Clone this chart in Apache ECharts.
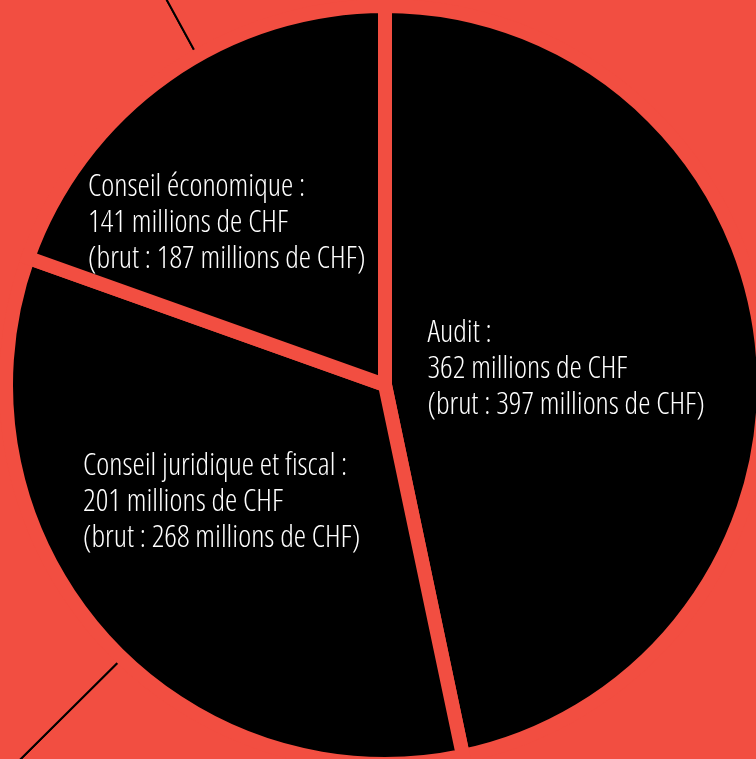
<!DOCTYPE html>
<html>
<head>
<meta charset="utf-8">
<script src="https://cdn.jsdelivr.net/npm/echarts@6/dist/echarts.min.js"></script>
<style>
  html, body { margin: 0; padding: 0; background: #F24E41; }
  #chart { width: 756px; height: 759px; }
</style>
</head>
<body>
<div id="chart"></div>
<script>
// Data
const categories = ['Audit', 'Conseil juridique et fiscal', 'Conseil économique'];
const netValues = [362, 201, 141];      // millions de CHF
const grossValues = [397, 268, 187];    // brut, millions de CHF
const sliceShares = [46.7, 33.75, 19.55]; // share of the circle each slice covers (%)
const backgroundShares = [41.8, 29.5, 28.7]; // background ring divisions (%)

const RED = '#F24E41';
const FONT = '"Open Sans", "DejaVu Sans Condensed", sans-serif';

// label placement tweaks (dx, dy from library anchor)
const labelShift = [[-149, 4], [-157, -9], [-186, -5]];

const chart = echarts.init(document.getElementById('chart'), null, { renderer: 'canvas' });

chart.setOption({
  backgroundColor: RED,
  animation: false,
  series: [
    {
      type: 'pie',
      z: 1,
      silent: true,
      center: [384, 398],
      radius: 1100,
      startAngle: 15.3,
      clockwise: true,
      label: { show: false },
      labelLine: { show: false },
      emphasis: { disabled: true },
      itemStyle: { color: RED, borderColor: '#000', borderWidth: 2 },
      data: backgroundShares.map((v, i) => ({ value: v, name: 'bg' + i }))
    },
    {
      type: 'pie',
      z: 2,
      silent: true,
      center: [385, 385],
      radius: 379,
      startAngle: 90,
      clockwise: true,
      avoidLabelOverlap: false,
      emphasis: { disabled: true },
      itemStyle: { color: '#000', borderColor: RED, borderWidth: 14, borderJoin: 'miter' },
      label: {
        show: true,
        position: 'inside',
        color: '#fff',
        fontFamily: FONT,
        fontSize: 31,
        lineHeight: 36,
        fontWeight: '300 condensed',
        align: 'left',
        formatter: (p) => {
          const i = p.dataIndex;
          return categories[i] + ' :\n' + netValues[i] + ' millions de CHF\n(brut : ' + grossValues[i] + ' millions de CHF)';
        }
      },
      labelLayout: function (params) {
        const r = params.labelRect;
        const s = labelShift[params.dataIndex];
        return {
          x: r.x + r.width / 2 + s[0],
          y: r.y + r.height / 2 + s[1],
          align: 'left',
          verticalAlign: 'middle'
        };
      },
      labelLine: { show: false },
      data: sliceShares.map((v, i) => ({ value: v, name: categories[i] }))
    }
  ]
});
</script>
</body>
</html>
